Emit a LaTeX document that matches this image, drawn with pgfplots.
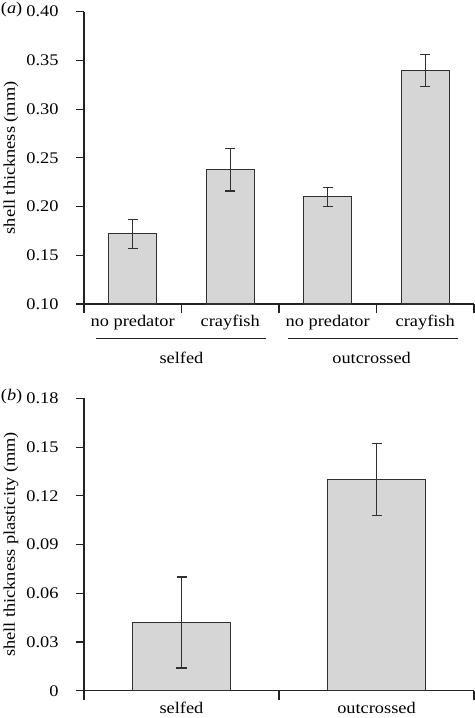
\documentclass[border=0pt]{standalone}
\usepackage{fontspec}
\setmainfont{Liberation Serif}[FakeStretch=1.13]
\usepackage{pgfplots}
\pgfplotsset{compat=1.18}
\definecolor{barfill}{HTML}{D6D6D6}
\definecolor{edge}{HTML}{303030}
\definecolor{axc}{HTML}{222222}
\pgfplotsset{
  mystyle/.style={
    scale only axis, width=390bp, height=292.3bp,
    axis lines=left, axis line style={-, draw=axc, line width=1.2bp},
    tick align=outside, tick pos=left,
    major tick length=8bp,
    ytick style={draw=axc, line width=1.2bp},
    xtick style={draw=none},
    extra x tick style={xtick style={draw=axc, line width=1.2bp}, major tick length=9bp},
    extra x tick labels={},
    /pgf/number format/assume math mode=true,
    yticklabel style={anchor=east, inner sep=0pt, xshift=-17.3bp},
    xticklabel style={anchor=base, inner sep=0pt, yshift=-14.7bp},
    ylabel style={at={(axis description cs:-0.1774,0.5)}, anchor=base, inner sep=0pt},
    clip mode=individual,
  },
  mybar/.style={ybar, bar shift=0pt, fill=barfill, draw=edge, line width=1.2bp,
    error bars/.cd, y dir=both, y explicit,
    error bar style={line width=1.1bp, draw=edge},
    error mark options={rotate=90, mark size=5bp, line width=1.1bp, draw=edge},
    /pgfplots/.cd},
}
\begin{document}
\fontsize{16.3}{19}\selectfont%
\begin{tikzpicture}
\path[use as bounding box] (0,0) rectangle (475bp,-718bp);
\node[anchor=base west, inner sep=0pt] at (0.7bp,-13.5bp) {(\textit{a})};
\node[anchor=base west, inner sep=0pt] at (0.7bp,-400bp) {(\textit{b})};
\begin{axis}[mystyle, at={(84bp,-304bp)}, anchor=south west,
  xmin=0, xmax=4, ymin=0.10, ymax=0.40,
  xtick={0.5,1.5,2.5,3.5},
  xticklabels={no predator, crayfish, no predator, crayfish},
  extra x ticks={0,1,2,3,4},
  ytick={0.10,0.15,0.20,0.25,0.30,0.35,0.40},
  yticklabels={0.10,0.15,0.20,0.25,0.30,0.35,0.40},
  ylabel={shell thickness (mm)}]
\addplot[bar width=48bp, mybar] coordinates {
  (0.5,0.172) +- (0,0.015)
  (1.5,0.238) +- (0,0.022)
  (2.5,0.210) +- (0,0.0095)
  (3.5,0.340) +- (0,0.0165)
};
\draw[axc, line width=1.1bp] ([yshift=-34.3bp]axis cs:0.123,0.1) -- ([yshift=-34.3bp]axis cs:1.867,0.1);
\draw[axc, line width=1.1bp] ([yshift=-34.3bp]axis cs:2.089,0.1) -- ([yshift=-34.3bp]axis cs:3.833,0.1);
\node[anchor=base, inner sep=0pt] at ([yshift=-59bp]axis cs:1,0.1) {selfed};
\node[anchor=base, inner sep=0pt] at ([yshift=-59bp]axis cs:2.95,0.1) {outcrossed};
\end{axis}
\begin{axis}[mystyle, at={(84bp,-690.7bp)}, anchor=south west,
  xmin=0, xmax=2, ymin=0, ymax=0.18,
  xtick={0.5,1.5},
  xticklabels={selfed, outcrossed},
  extra x ticks={0,1,2},
  ytick={0,0.03,0.06,0.09,0.12,0.15,0.18},
  yticklabels={0,0.03,0.06,0.09,0.12,0.15,0.18},
  ylabel={shell thickness plasticity (mm)}]
\addplot[bar width=97.5bp, mybar] coordinates {
  (0.5,0.042) +- (0,0.028)
  (1.5,0.130) +- (0,0.022)
};
\end{axis}
\end{tikzpicture}
\end{document}
